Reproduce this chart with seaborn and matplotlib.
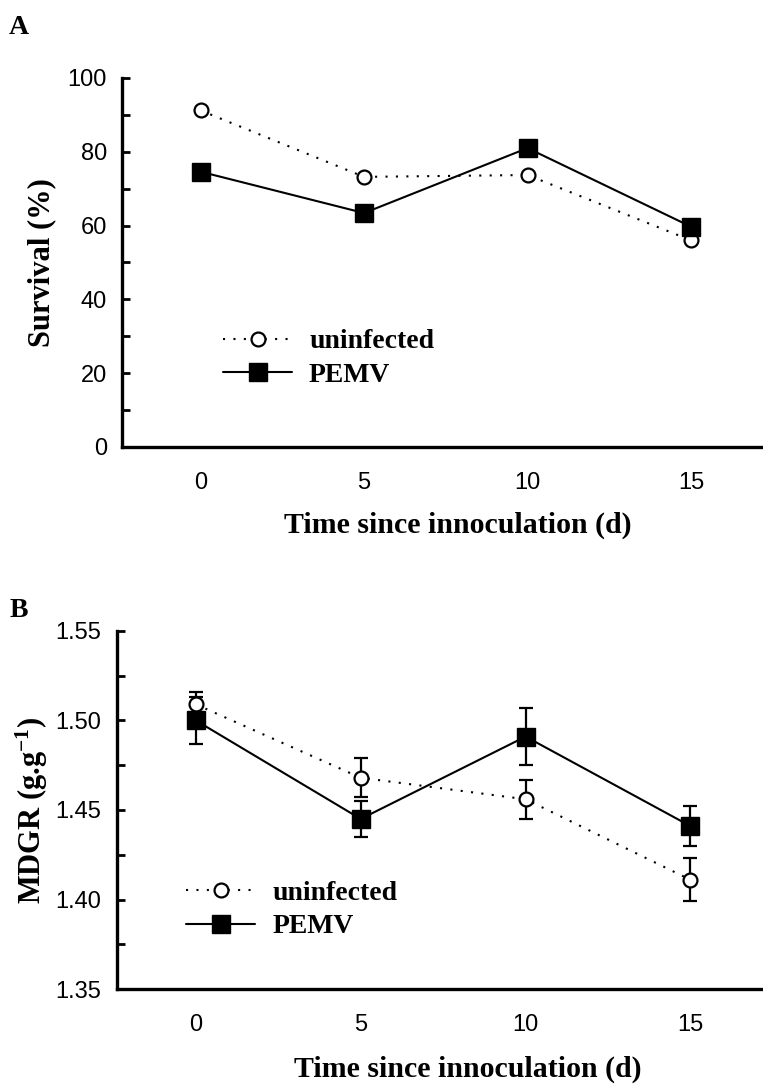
import matplotlib
matplotlib.use("Agg")
import matplotlib.pyplot as plt
import seaborn as sns
import pandas as pd
import numpy as np
from matplotlib.lines import Line2D

sns.set_theme(style="white")
plt.rcParams['font.family'] = ['Liberation Serif', 'DejaVu Serif']
plt.rcParams['mathtext.default'] = 'regular'
for k in ['text.color', 'axes.labelcolor', 'xtick.color', 'ytick.color',
          'axes.edgecolor']:
    plt.rcParams[k] = 'black'

days = [0, 5, 10, 15]
series = ["uninfected", "PEMV"]

survival_uninfected = [91.2, 73.2, 73.7, 56.0]
survival_pemv = [74.6, 63.4, 81.0, 59.7]

mdgr_uninfected = [1.509, 1.468, 1.456, 1.411]
mdgr_uninfected_se = [0.007, 0.011, 0.011, 0.012]
mdgr_pemv = [1.500, 1.445, 1.491, 1.441]
mdgr_pemv_se = [0.013, 0.010, 0.016, 0.011]

yticks_a = [0, 20, 40, 60, 80, 100]
yticks_b = [1.35, 1.40, 1.45, 1.50, 1.55]
ytick_labels_b = ["1.35", "1.40", "1.45", "1.50", "1.55"]

styles = {
    "uninfected": dict(ls=(0, (1, 4)), marker="o", mfc="white", ms=10, mew=1.6),
    "PEMV": dict(ls="-", marker="s", mfc="black", ms=13, mew=1.0),
}

fig = plt.figure(figsize=(7.63, 10.86), dpi=100)
axA = fig.add_axes([0.160, 0.5884, 0.840, 0.3398])
axB = fig.add_axes([0.153, 0.0893, 0.847, 0.3297])


def make_df(vals_u, vals_p):
    return pd.DataFrame({
        "day": days + days,
        "value": list(vals_u) + list(vals_p),
        "group": ["uninfected"] * 4 + ["PEMV"] * 4,
    })


def draw(ax, df, errs=None):
    for g in series:
        st = styles[g]
        sub = df[df.group == g]
        sns.lineplot(data=sub, x="day", y="value", ax=ax, color="black",
                     linestyle=st["ls"], lw=1.5, marker=st["marker"],
                     markersize=st["ms"], markerfacecolor=st["mfc"],
                     markeredgecolor="black", markeredgewidth=st["mew"],
                     legend=False, zorder=3 if g == "PEMV" else 2)
        if errs is not None:
            ax.errorbar(sub.day, sub.value, yerr=errs[g], fmt="none",
                        ecolor="black", elinewidth=1.6, capsize=5,
                        capthick=1.6, zorder=1)


def style_axes(ax):
    for s in ["top", "right"]:
        ax.spines[s].set_visible(False)
    for s in ["left", "bottom"]:
        ax.spines[s].set_linewidth(2.4)
        ax.spines[s].set_color("black")
    ax.set_xticks(days)
    ax.set_xticklabels([str(d) for d in days])
    ax.tick_params(axis="x", length=0, pad=18, labelsize=17)
    ax.tick_params(axis="y", which="both", direction="in", length=6,
                   width=2, pad=11, labelsize=17, left=True)
    ax.set_xlim(-2.4, 17.2)


def fix_tick_fonts(ax):
    for lab in ax.get_xticklabels() + ax.get_yticklabels():
        lab.set_family("Liberation Sans")


def add_legend(ax, loc):
    handles = []
    for g in series:
        st = styles[g]
        handles.append(Line2D([0], [0], color="black", lw=1.5,
                              linestyle=st["ls"], marker=st["marker"],
                              markersize=st["ms"], markerfacecolor=st["mfc"],
                              markeredgecolor="black",
                              markeredgewidth=st["mew"]))
    ax.legend(handles, series, loc="upper left", bbox_to_anchor=loc,
              frameon=False, prop=dict(family="Liberation Serif",
                                       weight="bold", size=20),
              handlelength=2.5, handletextpad=0.6, labelspacing=0.3,
              borderaxespad=0)


# Panel A
dfA = make_df(survival_uninfected, survival_pemv)
draw(axA, dfA)
style_axes(axA)
axA.set_ylim(0, 100)
axA.set_yticks(yticks_a)
axA.set_yticklabels([str(v) for v in yticks_a])
axA.set_yticks(np.arange(10, 100, 20), minor=True)
fix_tick_fonts(axA)
axA.set_xlabel("Time since innoculation (d)", fontsize=21.5, fontweight="bold")
axA.xaxis.set_label_coords(0.524, -0.175)
axA.set_ylabel("Survival (%)", fontsize=22, fontweight="bold", labelpad=8)
add_legend(axA, (0.14, 0.35))

# Panel B
dfB = make_df(mdgr_uninfected, mdgr_pemv)
draw(axB, dfB, errs={"uninfected": mdgr_uninfected_se,
                     "PEMV": mdgr_pemv_se})
style_axes(axB)
axB.set_ylim(1.35, 1.55)
axB.set_yticks(yticks_b)
axB.set_yticklabels(ytick_labels_b)
axB.set_yticks(np.arange(1.375, 1.55, 0.05), minor=True)
fix_tick_fonts(axB)
axB.set_xlabel("Time since innoculation (d)", fontsize=21.5, fontweight="bold")
axB.xaxis.set_label_coords(0.543, -0.185)
axB.set_ylabel("MDGR (g.g$^{-1}$)", fontsize=22, fontweight="bold",
               labelpad=4)
add_legend(axB, (0.09, 0.335))

fig.text(0.012, 0.975, "A", fontsize=20, fontweight="bold", va="center")
fig.text(0.012, 0.438, "B", fontsize=20, fontweight="bold", va="center")

fig.savefig("out.png", dpi=100)
